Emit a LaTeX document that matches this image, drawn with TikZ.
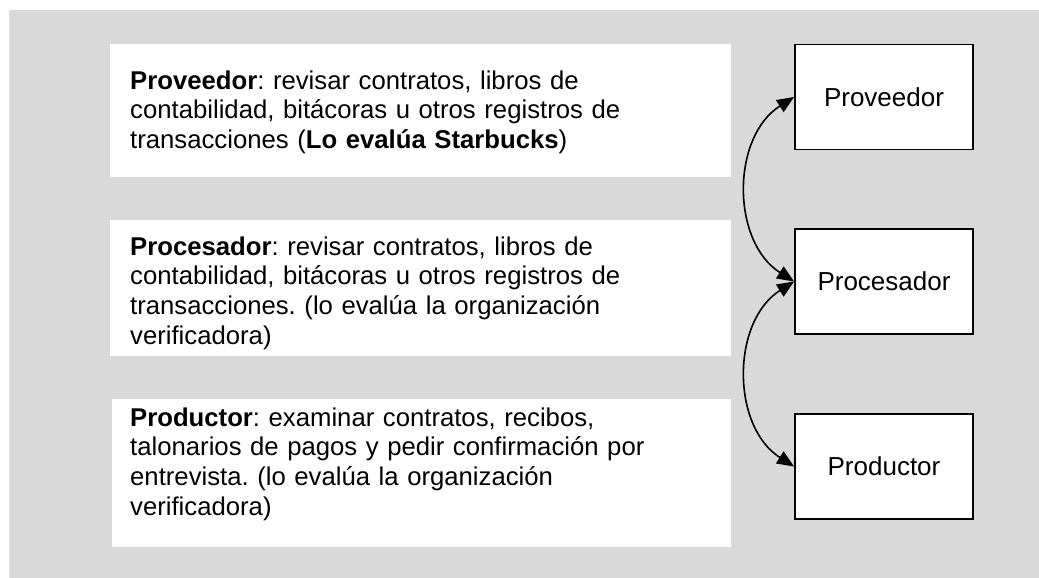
\documentclass[tikz,border=0pt]{standalone}
\usepackage{fontspec}
\setmainfont{Liberation Sans}
\usetikzlibrary{arrows.meta}
\definecolor{bggray}{HTML}{D9D9D9}
\frenchspacing
\begin{document}
\begin{tikzpicture}[x=1pt,y=-1pt,
  panel/.style={fill=white},
  desc/.style={anchor=base west, inner sep=0pt, text width=590pt, align=left,
    font=\fontsize{25.7}{29.7}\selectfont},
  actor/.style={draw=black, line width=1.8pt, fill=white, minimum width=178pt,
    minimum height=105pt, inner sep=0pt, font=\fontsize{26}{30}\selectfont},
  link/.style={line width=1.6pt, {Triangle[length=17pt,width=14pt]}-{Triangle[length=17pt,width=14pt]}}
]
\useasboundingbox (0,0) rectangle (1039,578);
\fill[white] (0,0) rectangle (1039,578);
\fill[bggray] (9,10) rectangle (1039,578);

% text panels
\path[panel] (110,44) rectangle (731,177);
\path[panel] (110,220) rectangle (731,356);
\path[panel] (112,399) rectangle (731,547);

\node[desc] (t1) at (130,89) {\textbf{Proveedor}: revisar contratos, libros de\\
contabilidad, bitácoras u otros registros de\\
transacciones (\textbf{Lo evalúa Starbucks})};
\node[desc] (t2) at (130,255) {\textbf{Procesador}: revisar contratos, libros de\\
contabilidad, bitácoras u otros registros de\\
transacciones. (lo evalúa la organización\\
verificadora)};
\node[desc] (t3) at (130,426) {\textbf{Productor}: examinar contratos, recibos,\\
talonarios de pagos y pedir confirmación por\\
entrevista. (lo evalúa la organización\\
verificadora)};

% actor boxes
\node[actor] (prov) at (884,97) {Proveedor};
\node[actor] (proc) at (884,281.5) {Procesador};
\node[actor] (prod) at (884,466.5) {Productor};

% connectors
\draw[link] (prov.west) .. controls +(-63,40) and +(-63,-40) .. (proc.west);
\draw[link] (proc.west) .. controls +(-63,40) and +(-63,-40) .. (prod.west);
\end{tikzpicture}
\end{document}
